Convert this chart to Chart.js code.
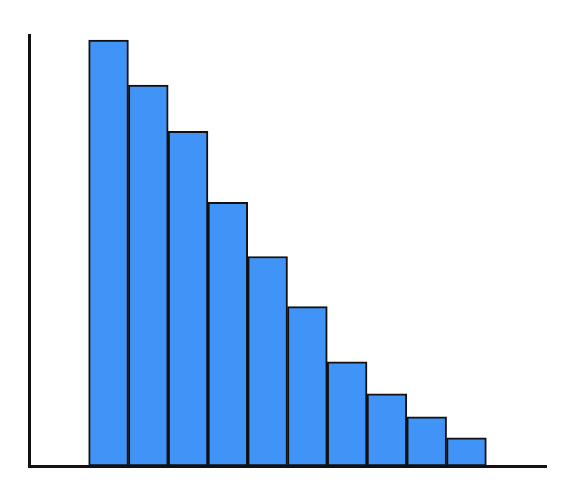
<!DOCTYPE html>
<html><head><meta charset="utf-8">
<script src="https://cdn.jsdelivr.net/npm/chart.js@4"></script>
<style>html,body{margin:0;padding:0;background:#fff}#w{width:578px;height:504px}</style>
</head><body><div id="w"><canvas id="c"></canvas></div>
<script>
const binCenters = [2,3,4,5,6,7,8,9,10,11];
const heights = [425,380,334,263,209,159,104,72,49,28];
new Chart(document.getElementById('c'), {
  type: 'bar',
  data: { datasets: [{
    data: binCenters.map((x,i)=>({x:x,y:heights[i]})),
    backgroundColor: '#4194f7', borderColor: '#111', borderWidth: 2,
    barPercentage: 1, categoryPercentage: 1, borderSkipped: false
  }]},
  options: {
    responsive: true, maintainAspectRatio: false, animation: false,
    layout: { padding: { left: 29, right: 32, top: 35, bottom: 38 } },
    plugins: { legend: { display: false }, tooltip: { enabled: false } },
    scales: {
      x: { type: 'linear', min: 0, max: 13, offset: false,
           ticks: { display: false }, grid: { display: false, drawTicks: false },
           border: { color: '#111', width: 3 } },
      y: { min: 0, max: 430, ticks: { display: false },
           grid: { display: false, drawTicks: false },
           border: { color: '#111', width: 3 } }
    }
  }
});
</script></body></html>
